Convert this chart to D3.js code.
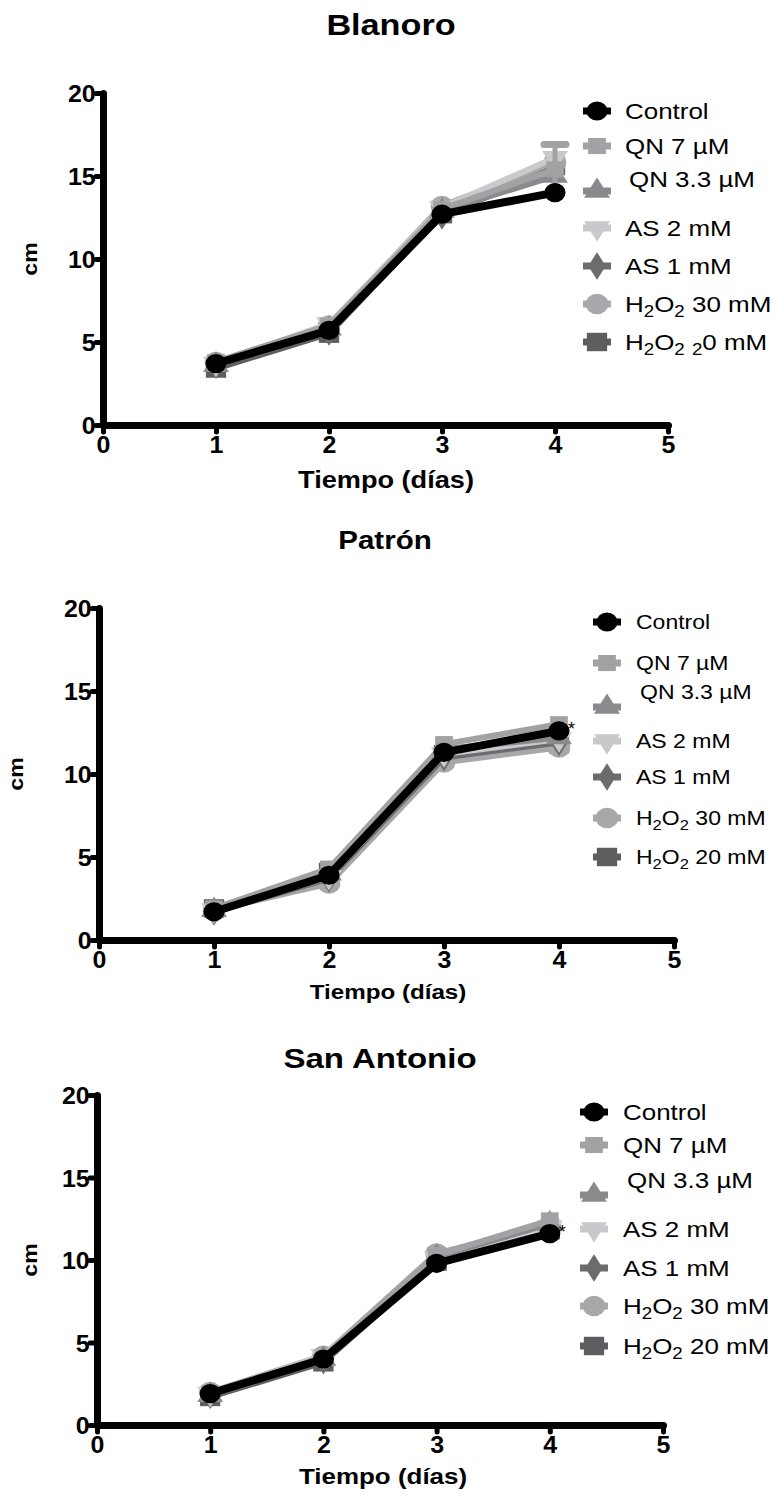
<!DOCTYPE html>
<html>
<head>
<meta charset="utf-8">
<script src="https://cdn.jsdelivr.net/npm/d3@7"></script>
<style>
  html, body { margin: 0; padding: 0; background: #fff; }
  svg { display: block; }
  svg text { font-family: Arial, "Liberation Sans", sans-serif; }
</style>
</head>
<body>
<svg id="chart" width="778" height="1497"></svg>
<script>
// Days of measurement and axis ticks
const days = [1, 2, 3, 4];
const xTicks = [0, 1, 2, 3, 4, 5];
const yTicks = [0, 5, 10, 15, 20];

// Treatments, in legend order
const treatments = ["Control", "QN 7 µM", "QN 3.3 µM", "AS 2 mM", "AS 1 mM", "H2O2 30 mM", "H2O2 20 mM"];

// Mean length (cm) per treatment, one row per treatment, one value per day
const blanoro = [
  [3.7, 5.7, 12.7, 14.0],
  [3.8, 6.0, 13.0, 15.4],
  [3.6, 5.8, 12.9, 15.0],
  [3.7, 6.1, 13.1, 16.1],
  [3.6, 5.6, 12.6, 15.5],
  [3.8, 6.0, 13.2, 15.8],
  [3.4, 5.5, 12.7, 15.6]
];
const patron = [
  [1.7, 3.9, 11.3, 12.6],
  [1.9, 4.3, 11.8, 13.0],
  [1.8, 4.0, 11.5, 12.2],
  [1.8, 3.8, 11.2, 12.1],
  [1.7, 3.7, 11.0, 11.9],
  [1.8, 3.4, 10.7, 11.6],
  [1.9, 4.1, 11.2, 11.8]
];
const sanAntonio = [
  [1.9, 4.0, 9.8, 11.6],
  [1.9, 4.1, 10.3, 12.4],
  [1.8, 4.0, 10.2, 12.2],
  [1.9, 4.2, 10.1, 12.0],
  [1.8, 3.9, 10.0, 11.9],
  [2.0, 4.2, 10.4, 12.1],
  [1.7, 3.8, 9.9, 11.8]
];
// Visible error bar (Blanoro, QN 7 µM, day 4)
const blanoroErrQN7 = [0, 0, 0, 1.5];

// Legend labels as [text, isSubscript] runs
const legendRuns = [
  [["Control", false]],
  [["QN 7 µM", false]],
  [["QN 3.3 µM", false]],
  [["AS 2 mM", false]],
  [["AS 1 mM", false]],
  [["H", false], ["2", true], ["O", false], ["2", true], [" 30 mM", false]],
  [["H", false], ["2", true], ["O", false], ["2", true], [" 20 mM", false]]
];
const legendRunsBlanoroLast = [["H", false], ["2", true], ["O", false], ["2", true], [" ", false], ["2", true], ["0 mM", false]];

const colors = ["#000000", "#a2a2a4", "#8a8a8c", "#c9c9cb", "#6c6c6e", "#a8a8aa", "#5e5e60"];
const symbols = [d3.symbolCircle, d3.symbolSquare, d3.symbolTriangle, d3.symbolTriangle, d3.symbolDiamond, d3.symbolCircle, d3.symbolSquare];
const rotations = [0, 0, 0, 180, 0, 0, 0];
const symSizes = [290, 260, 240, 240, 220, 330, 340];

const FONT = "Arial, 'Liberation Sans', sans-serif";
const SX = 1.18; // type in this figure is set slightly wide
const svg = d3.select("#chart").attr("font-family", FONT);

// Place a text element at (x, y), widened horizontally
function wideText(parent, x, y, sx = SX) {
  return parent.append("text").attr("transform", `translate(${x},${y}) scale(${sx},1)`);
}

const panels = [
  { title: "Blanoro", data: blanoro, x0: 103, x1: 668, y0: 425, y1: 93,
    titleX: 391, titleY: 35, titleSize: 29,
    xLabelX: 386, xLabelY: 488, xLabelSize: 23, cmX: 30, tickSize: 24,
    legX: 597, legTextX: 625, legFont: 22,
    legRows: [111, 146, 191, 228, 266, 304, 342], legTextRows: [111, 146, 179, 228, 266, 304, 342],
    star: false, errSeries: 1, err: blanoroErrQN7, lastRuns: legendRunsBlanoroLast },
  { title: "Patrón", data: patron, x0: 99, x1: 674, y0: 940, y1: 608,
    titleX: 385, titleY: 549, titleSize: 25,
    xLabelX: 388, xLabelY: 999, xLabelSize: 20.5, cmX: 16, tickSize: 24,
    legX: 607, legTextX: 636, legFont: 19.5,
    legRows: [622, 663, 707, 741, 777, 818, 857], legTextRows: [622, 663, 692, 741, 777, 818, 857],
    star: true },
  { title: "San Antonio", data: sanAntonio, x0: 97, x1: 663, y0: 1425, y1: 1095,
    titleX: 380, titleY: 1068, titleSize: 28,
    xLabelX: 383, xLabelY: 1484, xLabelSize: 22, cmX: 30, tickSize: 24,
    legX: 594, legTextX: 623, legFont: 22,
    legRows: [1112, 1145, 1195, 1229, 1268, 1306, 1346], legTextRows: [1112, 1145, 1180, 1229, 1268, 1306, 1346],
    star: true }
];

panels.forEach(p => {
  const g = svg.append("g");
  const x = d3.scaleLinear().domain([0, 5]).range([p.x0, p.x1]);
  const y = d3.scaleLinear().domain([0, 20]).range([p.y0, p.y1]);

  // Title
  wideText(g, p.titleX, p.titleY)
    .attr("text-anchor", "middle")
    .attr("font-size", p.titleSize).attr("font-weight", "bold")
    .text(p.title);

  // Axes
  const xAxis = g.append("g").attr("transform", `translate(0,${p.y0})`)
    .call(d3.axisBottom(x).tickValues(xTicks).tickFormat(d3.format("d")).tickSizeInner(7).tickSizeOuter(0).tickPadding(4));
  const yAxis = g.append("g").attr("transform", `translate(${p.x0},0)`)
    .call(d3.axisLeft(y).tickValues(yTicks).tickFormat(d3.format("d")).tickSizeInner(7).tickSizeOuter(0).tickPadding(0));

  [xAxis, yAxis].forEach(ax => {
    ax.attr("font-family", FONT).attr("font-size", p.tickSize);
    ax.select(".domain").attr("stroke", "#000").attr("stroke-width", 7).attr("stroke-linecap", "round");
    ax.selectAll(".tick line").attr("stroke", "#000").attr("stroke-width", 5).attr("stroke-linecap", "round");
    ax.selectAll(".tick text")
      .attr("font-family", FONT)
      .attr("font-size", p.tickSize).attr("font-weight", "bold").attr("fill", "#000")
      .attr("transform", "scale(1.04,1)");
  });
  yAxis.selectAll(".tick text").attr("dy", "0.36em");

  // Axis titles
  wideText(g, p.xLabelX, p.xLabelY)
    .attr("text-anchor", "middle")
    .attr("font-size", p.xLabelSize).attr("font-weight", "bold")
    .text("Tiempo (días)");
  g.append("text")
    .attr("transform", `translate(${p.cmX},${(p.y0 + p.y1) / 2}) rotate(-90) scale(1.1,1)`)
    .attr("text-anchor", "middle").attr("dy", "0.35em")
    .attr("font-size", 21).attr("font-weight", "bold")
    .text("cm");

  const line = d3.line().x((d, i) => x(days[i])).y(d => y(d));

  // Treatments drawn first, control on top
  const order = [6, 5, 4, 3, 2, 1, 0];
  order.forEach(si => {
    const vals = p.data[si];
    g.append("path").datum(vals)
      .attr("d", line)
      .attr("fill", "none")
      .attr("stroke", colors[si])
      .attr("stroke-width", si === 0 ? 8 : 6)
      .attr("stroke-linejoin", "round");

    if (p.errSeries === si) {
      p.err.forEach((e, i) => {
        if (!e) return;
        const cx = x(days[i]);
        g.append("line").attr("x1", cx).attr("x2", cx)
          .attr("y1", y(vals[i] - e)).attr("y2", y(vals[i] + e))
          .attr("stroke", colors[si]).attr("stroke-width", 5);
        g.append("line").attr("x1", cx - 11).attr("x2", cx + 11)
          .attr("y1", y(vals[i] + e)).attr("y2", y(vals[i] + e))
          .attr("stroke", colors[si]).attr("stroke-width", 7).attr("stroke-linecap", "round");
      });
    }

    g.selectAll(null).data(vals).enter().append("path")
      .attr("d", d3.symbol().type(symbols[si]).size(symSizes[si]))
      .attr("transform", (d, i) => `translate(${x(days[i])},${y(d)}) rotate(${rotations[si]}) scale(1.1,1)`)
      .attr("fill", colors[si]);
  });

  if (p.star) {
    const v = p.data[0][3];
    g.append("text")
      .attr("x", x(4) + 9).attr("y", y(v) + 4)
      .attr("font-size", 18)
      .text("*");
  }

  // Legend
  treatments.forEach((name, si) => {
    const ly = p.legRows[si];
    g.append("line")
      .attr("x1", p.legX - 14).attr("x2", p.legX + 14)
      .attr("y1", ly).attr("y2", ly)
      .attr("stroke", colors[si]).attr("stroke-width", 7);
    g.append("path")
      .attr("d", d3.symbol().type(symbols[si]).size(symSizes[si]))
      .attr("transform", `translate(${p.legX},${ly}) rotate(${rotations[si]}) scale(1.1,1)`)
      .attr("fill", colors[si]);

    const runs = (si === 6 && p.lastRuns) ? p.lastRuns : legendRuns[si];
    const t = wideText(g, p.legTextX + (si === 2 ? 4 : 0), p.legTextRows[si])
      .attr("dy", "0.35em")
      .attr("font-size", p.legFont).attr("fill", "#000");
    let prevSub = false;
    runs.forEach(([txt, sub]) => {
      const ts = t.append("tspan").text(txt);
      if (sub) ts.attr("font-size", p.legFont * 0.72);
      const shift = (sub && !prevSub) ? 5 : (!sub && prevSub) ? -5 : 0;
      if (shift) ts.attr("dy", shift);
      prevSub = sub;
    });
  });
});
</script>
</body>
</html>
